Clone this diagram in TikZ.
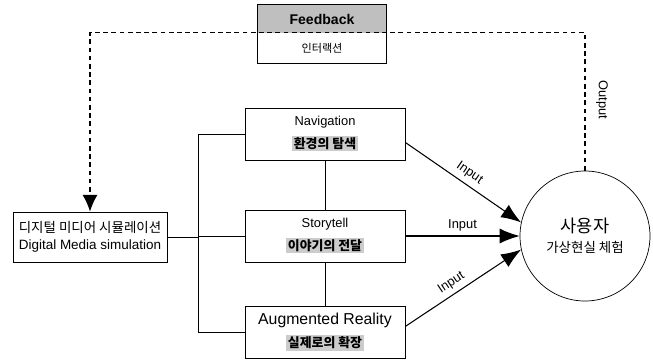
\documentclass[tikz,border=0pt]{standalone}
\usepackage{fontspec}
\setmainfont{Liberation Sans}
\newfontfamily\kr{Noto Sans CJK KR}
\usetikzlibrary{arrows.meta}
\setlength{\fboxsep}{1.5pt}
\newcommand\krtag[1]{\colorbox{gray!40}{\kr\bfseries #1}}
\begin{document}
\begin{tikzpicture}[x=0.03cm, y=-0.03cm, line width=0.6pt,
  every node/.style={inner sep=0pt},
  stage/.style={draw, minimum width=4.8cm, minimum height=1.56cm, align=center},
  lbl/.style={font=\fontsize{11}{13}\selectfont},
  flow/.style={-{Latex[length=6mm,width=4.5mm]}, line width=0.9pt},
  loop/.style={dash pattern=on 4pt off 3pt, line width=1.3pt}]
\useasboundingbox (0,0) rectangle (653,362);
% feedback box
\node[fill=gray!50, minimum width=3.84cm, minimum height=0.84cm,
  font=\bfseries\fontsize{12}{14}\selectfont] (fb) at (322,19) {Feedback};
\node[minimum width=3.84cm, minimum height=0.9cm,
  font=\kr\fontsize{9.5}{11}\selectfont] (fbk) at (322,48) {인터랙션};
\draw (fb.north west) rectangle (fbk.south east);
% simulation
\node[draw, minimum width=4.62cm, minimum height=1.5cm, align=center,
  font=\fontsize{11.5}{15}\selectfont] (sim) at (90,237)
  {{\kr 디지털 미디어 시뮬레이션}\\Digital Media simulation};
\foreach \n/\y/\s/\t/\k in {nav/134/11/Navigation/환경의 탐색,
    story/236/11/Storytell/이야기의 전달,
    ar/332/13.5/Augmented Reality/실제로의 확장}
  \node[stage, font=\fontsize{\s}{\s}\selectfont] (\n) at (325,\y)
    {\t\\[5pt]{\fontsize{11}{13}\selectfont\krtag{\k}}};
\node[draw, circle, minimum size=3.9cm, align=center] (user) at (585,236)
  {{\kr\fontsize{15}{18}\selectfont 사용자}\\[5pt]{\kr\fontsize{11.5}{14}\selectfont 가상현실 체험}};
% connections
\coordinate (bus) at (198,0);
\draw (sim.east) -- (sim.east -| bus);
\draw (nav.west) -- (nav.west -| bus) -- (ar.west -| bus) -- (ar.west);
\draw (story.west) -- (story.west -| bus);
\draw (nav.south) -- (story.north);
\draw (story.south) -- (ar.north);
\draw[flow] (nav.-6) -- node[sloped, above=4pt, lbl]{Input} (user.168);
\draw[flow] (story.east) -- node[above=4pt, lbl]{Input} (user.west);
\draw[flow] (ar.4) -- node[sloped, above=4pt, pos=0.45, lbl]{Input} (user.192);
\draw[loop, -{Latex[length=5mm,width=4.5mm]}] (user.north) |- (fbk.north) -| (sim.north);
\node[rotate=-90, lbl] (out) at (602,100) {Output};
\end{tikzpicture}
\end{document}
